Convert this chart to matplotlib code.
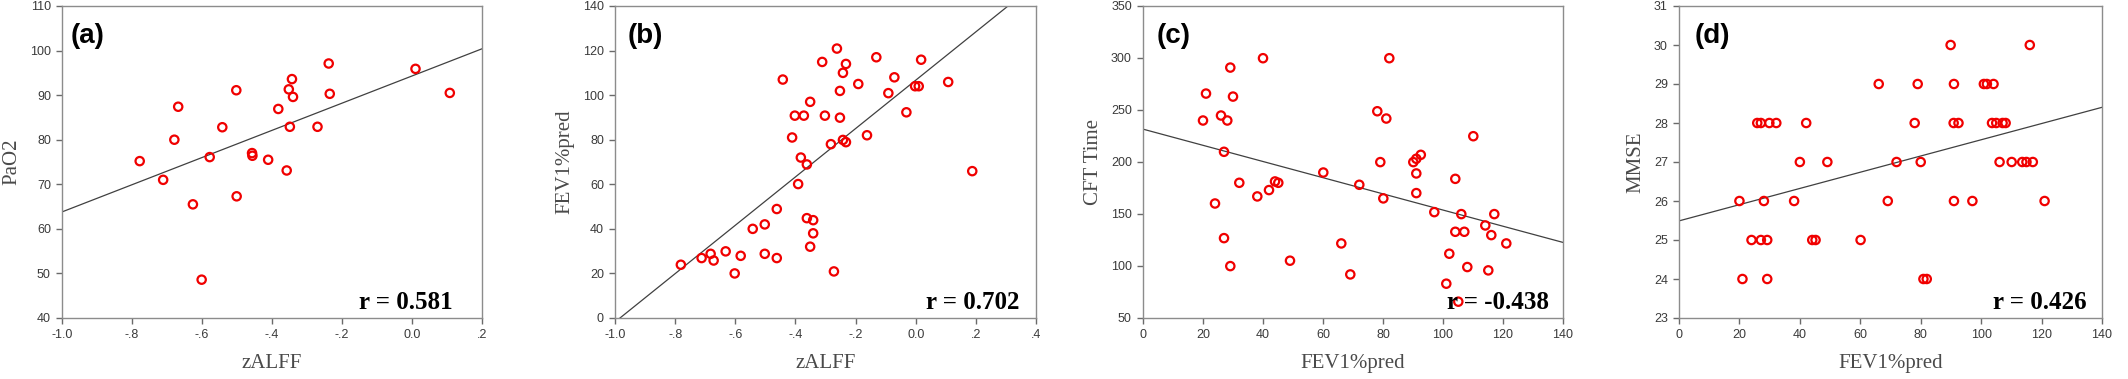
"""
Four scatter panels (a)-(d): zALFF / FEV1%pred against clinical scores,
open red circles with a least-squares line and the Pearson r in the corner.
"""

import numpy as np
import matplotlib

matplotlib.use("Agg")
import matplotlib.pyplot as plt  # noqa: E402

# ---------------------------------------------------------------------------
# Data
# ---------------------------------------------------------------------------

# (a) PaO2 vs zALFF
a_x = [-0.778, -0.711, -0.679, -0.668, -0.626, -0.601, -0.578, -0.542, -0.502,
       -0.501, -0.457, -0.456, -0.411, -0.382, -0.358, -0.352, -0.349, -0.343,
       -0.340, -0.270, -0.238, -0.235, 0.010, 0.108]
a_y = [75.2, 71.0, 80.0, 87.4, 65.5, 48.6, 76.1, 82.8, 91.1,
       67.3, 77.0, 76.4, 75.5, 86.9, 73.1, 91.3, 82.9, 93.6,
       89.6, 82.9, 97.1, 90.3, 95.9, 90.5]
a_fit = (30.5, 94.3)          # slope, intercept
a_r = "r = 0.581"

# (b) FEV1%pred vs zALFF
b_x = [-0.781, -0.712, -0.682, -0.672, -0.632, -0.602, -0.582, -0.542, -0.502,
       -0.502, -0.462, -0.462, -0.442, -0.411, -0.402, -0.391, -0.382, -0.372,
       -0.362, -0.362, -0.351, -0.351, -0.341, -0.341, -0.311, -0.302, -0.282,
       -0.272, -0.262, -0.252, -0.252, -0.242, -0.242, -0.232, -0.232, -0.191,
       -0.162, -0.131, -0.091, -0.071, -0.031, -0.002, 0.010, 0.018, 0.108,
       0.188]
b_y = [23.9, 26.9, 28.8, 25.8, 29.9, 20.0, 27.9, 40.0, 42.0,
       28.8, 48.9, 26.9, 107.0, 81.0, 90.8, 60.1, 72.0, 90.8,
       68.9, 44.8, 97.0, 32.0, 43.9, 38.0, 114.9, 90.8, 78.0,
       20.9, 120.9, 101.9, 89.9, 110.0, 79.9, 114.0, 78.9, 105.0,
       82.0, 117.0, 100.9, 108.0, 92.3, 104.0, 104.0, 115.9, 105.9,
       65.9]
b_fit = (108.5, 106.7)
b_r = "r = 0.702"

# (c) CFT Time vs FEV1%pred
c_x = [20.0, 21.0, 24.0, 26.0, 27.0, 27.0, 28.1, 29.1, 29.1, 30.0, 32.1, 38.1,
       40.0, 42.0, 44.0, 45.1, 49.0, 60.1, 66.1, 69.1, 72.1, 78.1, 79.1, 80.1,
       81.1, 82.1, 90.1, 91.1, 91.1, 91.1, 92.6, 97.1, 101.1, 102.1, 104.1,
       104.1, 105.1, 106.1, 107.1, 108.1, 110.1, 114.1, 115.1, 116.1, 117.1,
       121.1]
c_y = [239.9, 265.8, 160.1, 244.7, 209.8, 126.8, 239.9, 290.8, 99.9, 262.9,
       180.0, 166.9, 299.8, 173.0, 181.3, 180.0, 105.1, 189.9, 121.7, 91.9,
       178.1, 248.8, 199.9, 165.0, 241.8, 299.8, 199.9, 203.1, 189.0, 170.1,
       206.9, 151.8, 83.0, 111.8, 183.8, 132.9, 65.7, 149.9, 132.9, 99.0,
       224.8, 139.0, 95.8, 129.7, 149.9, 121.7]
c_fit = (-0.778, 231.6)
c_r = "r = -0.438"

# (d) MMSE vs FEV1%pred
d_x = [89.9, 116.1,
       66.1, 79.0, 91.0, 100.9, 101.9, 104.1,
       25.9, 27.1, 29.9, 32.2, 42.1, 78.0, 90.9, 92.5, 103.6, 105.0, 107.1, 108.1,
       40.0, 49.1, 72.0, 80.0, 106.1, 110.1, 113.6, 115.0, 117.1,
       20.0, 28.1, 38.1, 69.1, 91.0, 97.1, 121.0,
       24.0, 27.1, 29.2, 44.1, 45.2, 60.1,
       21.0, 29.2, 80.9, 82.0]
d_y = [30, 30,
       29, 29, 29, 29, 29, 29,
       28, 28, 28, 28, 28, 28, 28, 28, 28, 28, 28, 28,
       27, 27, 27, 27, 27, 27, 27, 27, 27,
       26, 26, 26, 26, 26, 26, 26,
       25, 25, 25, 25, 25, 25,
       24, 24, 24, 24]
d_fit = (0.0208, 25.49)
d_r = "r = 0.426"

# ---------------------------------------------------------------------------
# Styling
# ---------------------------------------------------------------------------

SANS = "Liberation Sans"
SERIF = "Liberation Serif"
FRAME = "#8c8c8c"
TICK_TXT = "#3a3a3a"
LABEL_TXT = "#4a4a4a"

W, H = 2128, 379
AX_PX = [  # left, right (px)
    (62, 482),
    (615, 1036),
    (1143, 1563),
    (1679, 2102),
]
AX_TOP, AX_BOT = 6, 318


def _panel(ax, xs, ys, fit, rtext, tag, xlim, xticks, xticklabels,
           ylim, yticks, xlabel, ylabel, tag_x, r_x):
    ax.scatter(xs, ys, s=36, facecolors="none", edgecolors="#f00000",
               linewidths=1.6, zorder=3)
    xl = np.array(xlim, dtype=float)
    ax.plot(xl, fit[0] * xl + fit[1], color="#404040", linewidth=0.9, zorder=2)

    ax.set_xlim(*xlim)
    ax.set_ylim(*ylim)
    ax.set_xticks(xticks)
    ax.set_xticklabels(xticklabels)
    ax.set_yticks(yticks)
    for sp in ax.spines.values():
        sp.set_color(FRAME)
        sp.set_linewidth(1.0)
    ax.tick_params(direction="out", length=4, width=1.0, color="#6a6a6a",
                   labelsize=9, labelcolor=TICK_TXT, pad=4)
    for lab in ax.get_xticklabels() + ax.get_yticklabels():
        lab.set_fontfamily(SANS)

    ax.set_xlabel(xlabel, family=SERIF, fontsize=15, color=LABEL_TXT,
                  labelpad=9)
    ax.set_ylabel(ylabel, family=SERIF, fontsize=15, color=LABEL_TXT,
                  labelpad=6)

    ax.text(tag_x, 0.905, tag, transform=ax.transAxes, family=SANS,
            fontsize=20, fontweight="bold", ha="left", va="center")
    ax.text(r_x, 0.03, rtext, transform=ax.transAxes, family=SERIF,
            fontsize=18, fontweight="bold", ha="right", va="baseline",
            zorder=4)


def main() -> None:
    fig = plt.figure(figsize=(W / 100, H / 100), dpi=100)
    axes = []
    for left, right in AX_PX:
        axes.append(fig.add_axes([left / W, 1 - AX_BOT / H,
                                  (right - left) / W, (AX_BOT - AX_TOP) / H]))

    _panel(axes[0], a_x, a_y, a_fit, a_r, "(a)",
           (-1.0, 0.2), [-1.0, -0.8, -0.6, -0.4, -0.2, 0.0, 0.2],
           ["-1.0", "-.8", "-.6", "-.4", "-.2", "0.0", ".2"],
           (40, 110), range(40, 111, 10), "zALFF", "PaO2", 0.02, 0.93)
    _panel(axes[1], b_x, b_y, b_fit, b_r, "(b)",
           (-1.0, 0.4), [-1.0, -0.8, -0.6, -0.4, -0.2, 0.0, 0.2, 0.4],
           ["-1.0", "-.8", "-.6", "-.4", "-.2", "0.0", ".2", ".4"],
           (0, 140), range(0, 141, 20), "zALFF", "FEV1%pred", 0.03, 0.96)
    _panel(axes[2], c_x, c_y, c_fit, c_r, "(c)",
           (0, 140), range(0, 141, 20), [str(v) for v in range(0, 141, 20)],
           (50, 350), range(50, 351, 50), "FEV1%pred", "CFT Time", 0.033, 0.967)
    _panel(axes[3], d_x, d_y, d_fit, d_r, "(d)",
           (0, 140), range(0, 141, 20), [str(v) for v in range(0, 141, 20)],
           (23, 31), range(23, 32), "FEV1%pred", "MMSE", 0.038, 0.964)

    fig.savefig("out.png", dpi=100)


if __name__ == "__main__":
    main()
